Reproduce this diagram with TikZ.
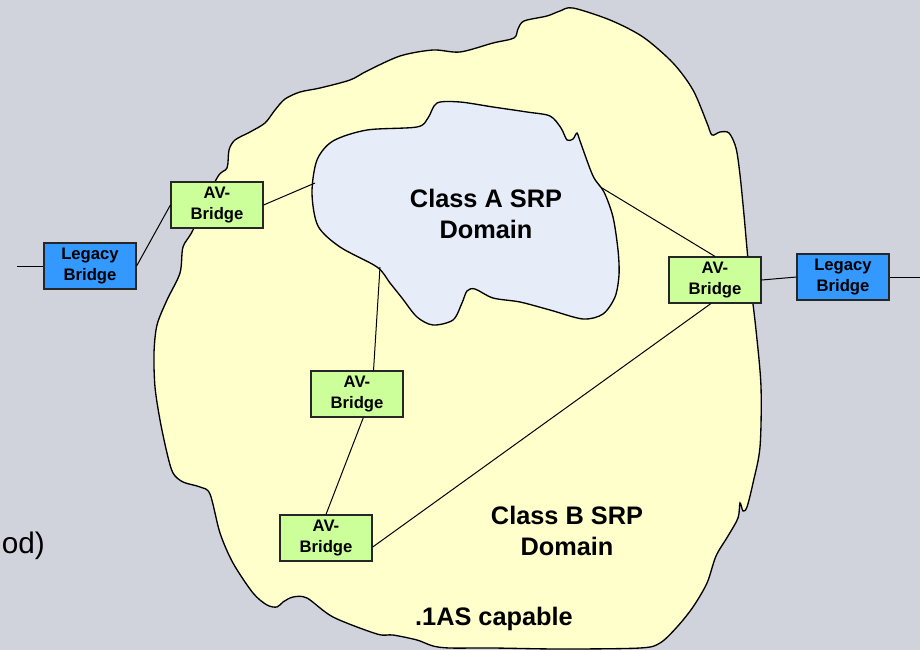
\documentclass[tikz,border=0pt]{standalone}
\usepackage{fontspec}
\setsansfont{Liberation Sans}
\usetikzlibrary{positioning}
\definecolor{slidebg}{RGB}{208,211,219}
\definecolor{domainB}{RGB}{255,255,204}
\definecolor{domainA}{RGB}{230,236,248}
\definecolor{avgreen}{RGB}{204,255,153}
\definecolor{legblue}{RGB}{51,153,255}

\begin{document}
\begin{tikzpicture}[x=0.75pt,y=-0.75pt,
  avbridge/.style={draw=black!85,line width=0.9pt,fill=avgreen,
    minimum width=69pt,minimum height=34.5pt,inner sep=0pt,align=center,
    font=\sffamily\bfseries\fontsize{12.5}{15.5}\selectfont},
  legbridge/.style={avbridge,fill=legblue},
  link/.style={line width=0.75pt},
  domlabel/.style={align=center,inner sep=0pt,
    font=\sffamily\bfseries\fontsize{19}{23}\selectfont}]
\fill[slidebg] (0,0) rectangle (920,650);
\useasboundingbox (0,0) rectangle (920,650);
% Class B domain (.1AS capable)
\draw[line width=1pt,fill=domainB] plot[smooth cycle,tension=0.5] coordinates {
  (573,8) (610,20) (643,37) (673,63) (693,90) (707,123) (712,135) (720,132)
  (729,133) (736,148) (740,175) (744,215) (749,270) (756,330) (761,387)
  (760,447) (753,483) (747,507) (743,511) (740,503) (738,518) (728,536)
  (716,556) (707,583) (693,607) (677,627) (660,643) (640,648) (560,649)
  (493,648) (450,648) (433,646) (417,640) (393,635) (377,634) (333,617)
  (307,598) (293,597) (283,602) (277,607) (267,605) (253,593) (233,563)
  (220,533) (210,494) (200,487) (183,482) (173,473) (167,453) (160,420)
  (155,387) (154,353) (157,325) (167,300) (180,273) (183,247) (193,230)
  (217,178) (227,168) (229,150) (235,140) (250,132) (265,123) (275,110)
  (285,99) (300,92) (320,88) (350,80) (367,71) (400,56) (433,50) (460,52)
  (493,43) (514,38) (518,29) (524,21) (547,16) (560,11)};
% Class A domain
\draw[line width=1pt,fill=domainA] plot[smooth cycle,tension=0.5] coordinates {
  (437,103) (460,102) (493,107) (527,112) (550,116) (561,128) (567,140)
  (573,139) (577,133) (580,141) (593,176) (604,192) (613,217) (618,250)
  (619,275) (615,297) (603,314) (583,319) (550,310) (520,302) (493,298)
  (475,289) (467,291) (462,303) (453,320) (433,325) (417,317) (402,298)
  (390,283) (377,267) (340,247) (318,226) (312,193) (317,160) (333,141)
  (367,130) (417,127) (428,118)};
\node[domlabel] (clsA) at (486,214) {Class A SRP\\Domain};
\node[domlabel] (clsB) at (567,531) {Class B SRP\\Domain};
\node[domlabel,anchor=base] (cap) at (494,625) {.1AS capable};
\node[anchor=base east,inner sep=0pt,font=\sffamily\fontsize{22.3}{26}\selectfont]
  (rest) at (45,553) {od)};
% bridges
\node[legbridge] (legL) at (90,266) {Legacy\\Bridge};
\node[avbridge] (av1) at (217,205) {AV-\\Bridge};
\node[avbridge] (av2) at (715,280) {AV-\\Bridge};
\node[legbridge] (legR) at (843,277) {Legacy\\Bridge};
\node[avbridge] (av3) at (357,394) {AV-\\Bridge};
\node[avbridge] (av4) at (326,538) {AV-\\Bridge};
\coordinate (inL) at (17,266);
\coordinate (outR) at (920,277);
\coordinate (edgeA1) at (315,183);
\coordinate (edgeA2) at (602,188);
\coordinate (edgeA3) at (380,267);
% links
\draw[link] (inL) -- (legL.west);
\draw[link] (legL.east) -- (av1.west);
\draw[link] (av1.east) -- (edgeA1);
\draw[link] (edgeA2) -- (av2.north);
\draw[link] (av2.east) -- (legR.west);
\draw[link] (legR.east) -- (outR);
\draw[link] (edgeA3) -- (av3.55);
\draw[link] (av3.-75) -- (av4.north);
\draw[link] (av4.-11) -- (av2.-100);
\end{tikzpicture}
\end{document}
